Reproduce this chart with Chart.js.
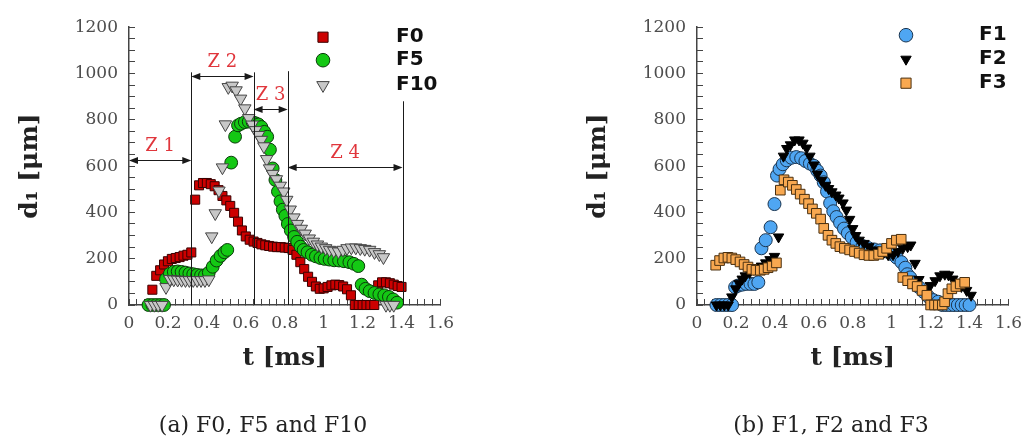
<!DOCTYPE html>
<html>
<head>
<meta charset="utf-8">
<script src="https://cdn.jsdelivr.net/npm/chart.js@4.4.1/dist/chart.umd.min.js"></script>
<style>
  html, body { margin: 0; padding: 0; background: #fff; overflow: hidden; }
  body { width: 1036px; height: 439px; position: relative; }
  .panel { position: absolute; top: 0; width: 468px; height: 439px; }
  .panel canvas { position: absolute; left: 0; top: 0; }
  .caption { position: absolute; left: 0; top: 411px; width: 526px; text-align: center;
             font: 22px "DejaVu Serif", serif; line-height: 28px; color: #222; }
</style>
</head>
<body>
<div class="panel" style="left:0"><canvas id="chartA" width="468" height="439"></canvas><div class="caption">(a) F0, F5 and F10</div></div>
<div class="panel" style="left:568px"><canvas id="chartB" width="468" height="439"></canvas><div class="caption">(b) F1, F2 and F3</div></div>
<script>
// ---- data: t [ms] and d1 [µm] ----
const f0T = [0.12,0.14,0.16,0.18,0.20,0.22,0.24,0.26,0.28,0.30,0.32,0.34,0.36,0.38,0.40,0.42,0.44,0.46,0.48,0.50,0.52,0.54,0.56,0.58,0.60,0.62,0.64,0.66,0.68,0.70,0.72,0.74,0.76,0.78,0.80,0.82,0.84,0.86,0.88,0.90,0.92,0.94,0.96,0.98,1.00,1.02,1.04,1.06,1.08,1.10,1.12,1.14,1.16,1.18,1.20,1.22,1.24,1.26,1.28,1.30,1.32,1.34,1.36,1.38,1.40];
const f0D = [66,126,150,175,189,199,203,207,213,217,227,455,517,527,527,522,513,496,471,452,428,398,360,322,296,282,274,268,262,258,255,252,250,250,248,246,238,217,185,155,122,100,80,70,72,78,85,88,86,80,68,42,0,0,0,0,0,0,85,98,98,94,88,82,78];

const f5T = [0.10,0.12,0.14,0.16,0.18,0.19,0.21,0.23,0.25,0.27,0.29,0.31,0.33,0.35,0.37,0.39,0.41,0.43,0.45,0.47,0.49,0.505,0.525,0.545,0.56,0.575,0.595,0.615,0.635,0.65,0.665,0.68,0.695,0.71,0.724,0.738,0.752,0.765,0.778,0.79,0.803,0.816,0.831,0.848,0.864,0.881,0.897,0.917,0.939,0.96,0.983,1.005,1.03,1.054,1.079,1.104,1.132,1.155,1.178,1.195,1.215,1.236,1.261,1.286,1.311,1.335,1.357,1.377];
const f5D = [0,0,0,0,0,112,135,143,145,143,140,136,133,130,128,128,140,165,192,212,228,238,615,727,776,783,790,792,790,785,780,769,748,727,671,590,540,490,448,412,385,350,322,294,273,252,238,228,217,210,203,199,196,193,192,189,185,178,168,88,70,60,52,46,42,35,24,10];

const f10T = [0.11,0.13,0.15,0.17,0.19,0.21,0.23,0.25,0.27,0.29,0.31,0.33,0.35,0.37,0.39,0.41,0.425,0.443,0.462,0.48,0.495,0.51,0.53,0.55,0.573,0.595,0.615,0.633,0.65,0.665,0.68,0.693,0.707,0.722,0.738,0.757,0.777,0.795,0.81,0.828,0.847,0.865,0.885,0.905,0.926,0.947,0.968,0.988,1.01,1.03,1.052,1.076,1.099,1.12,1.142,1.165,1.188,1.211,1.236,1.261,1.286,1.307,1.32,1.34,1.36];
const f10D = [0,0,0,0,77,112,110,109,108,107,107,107,107,107,107,110,296,396,494,594,780,941,947,927,891,849,807,779,755,734,713,685,630,590,566,543,515,490,454,412,378,350,329,308,287,273,261,252,245,238,234,231,238,245,248,248,245,242,238,228,219,206,0,0,0];

const f1T = [0.10,0.12,0.14,0.16,0.18,0.196,0.212,0.232,0.253,0.275,0.295,0.315,0.331,0.353,0.378,0.398,0.411,0.424,0.441,0.461,0.485,0.51,0.535,0.557,0.58,0.601,0.618,0.635,0.651,0.668,0.684,0.70,0.717,0.735,0.755,0.775,0.795,0.82,0.85,0.88,0.91,0.94,0.97,1.0,1.025,1.05,1.07,1.08,1.095,1.115,1.14,1.165,1.19,1.214,1.239,1.26,1.28,1.30,1.32,1.34,1.36,1.38,1.40];
const f1D = [0,0,0,0,0,77,84,88,91,91,91,98,245,280,336,436,559,587,608,625,636,639,634,622,611,601,580,559,530,490,440,405,380,355,330,310,292,270,255,246,240,236,232,220,205,185,161,133,119,98,77,56,35,21,14,0,0,0,0,0,0,0,0];

const f2T = [0.10,0.12,0.14,0.16,0.179,0.199,0.216,0.232,0.248,0.27,0.292,0.312,0.331,0.353,0.375,0.398,0.419,0.444,0.461,0.48,0.502,0.524,0.544,0.563,0.58,0.60,0.618,0.64,0.66,0.676,0.693,0.713,0.729,0.75,0.767,0.784,0.80,0.815,0.833,0.858,0.883,0.908,0.933,0.957,0.982,1.007,1.032,1.057,1.082,1.098,1.12,1.14,1.156,1.181,1.198,1.223,1.248,1.273,1.292,1.314,1.339,1.358,1.385,1.408];
const f2D = [0,0,0,0,35,70,94,112,126,140,154,161,168,182,196,210,294,643,676,692,713,713,699,678,643,605,566,538,517,503,489,475,462,441,410,370,330,300,280,266,252,238,231,224,217,217,231,245,252,259,180,110,70,70,84,105,126,133,130,112,98,80,63,42];

const f3T = [0.096,0.116,0.138,0.159,0.179,0.199,0.221,0.242,0.262,0.282,0.303,0.325,0.345,0.365,0.386,0.408,0.428,0.447,0.469,0.49,0.51,0.53,0.552,0.573,0.593,0.613,0.635,0.651,0.673,0.693,0.713,0.734,0.757,0.784,0.809,0.833,0.858,0.883,0.908,0.933,0.954,0.974,0.999,1.024,1.049,1.057,1.082,1.107,1.131,1.156,1.181,1.20,1.22,1.24,1.26,1.272,1.289,1.309,1.33,1.352,1.375];
const f3D = [172,192,203,206,203,196,186,175,164,154,150,150,154,161,168,182,496,541,531,517,499,479,457,438,415,396,371,331,301,280,266,252,245,238,231,224,217,214,214,219,231,245,266,280,284,119,105,91,80,63,42,0,0,0,0,14,49,70,80,91,98];

// axis labels (major ticks only, minor ticks carry no text)
const xTickLabels = ['0','0.2','0.4','0.6','0.8','1','1.2','1.4','1.6'];
const yTickLabels = ['0','200','400','600','800','1000','1200'];

// zones of panel (a): edges in t, line tops and arrow heights in d1
const zoneEdges = [0, 0.32, 0.64, 0.815, 1.405];
const zoneTops = [1005, 1005, 1010, 880];
const zoneArrowD = [628, 988, 845, 597];
const zoneNames = ['Z 1', 'Z 2', 'Z 3', 'Z 4'];

// ---- helpers ----
function series(label, t, d, style) {
  return Object.assign({ label, data: t.map((x, i) => ({ x, y: d[i] })), clip: false }, style);
}

function marker(shape, radius, fill, edge, rotation) {
  return { pointStyle: shape, pointRadius: radius, pointRotation: rotation || 0,
           backgroundColor: fill, borderColor: edge, borderWidth: 1 };
}

function stepTicks(max, step) {
  const out = [];
  const n = Math.round(max / step);
  for (let i = 0; i <= n; i++) out.push({ value: +(i * step).toFixed(4) });
  return out;
}

function labelFor(v, major, labels) {
  const i = Math.round(v / major);
  return Math.abs(v - i * major) < 1e-6 ? labels[i] : '';
}

function axes() {
  const tickFont = { family: 'DejaVu Serif', size: 17 };
  const titleFont = { family: 'DejaVu Serif', size: 25, weight: 'bold' };
  const grid = { drawOnChartArea: false, tickLength: -6, tickColor: '#444', tickWidth: 1 };
  const border = { color: '#444', width: 1.5 };
  return {
    x: {
      type: 'linear', min: 0, max: 1.6,
      afterBuildTicks: s => { s.ticks = stepTicks(1.6, 0.04); },
      afterFit: s => { s.height = 134; },
      ticks: { autoSkip: false, maxRotation: 0, padding: 14, font: tickFont, color: '#4d4d4d',
               callback: v => labelFor(v, 0.2, xTickLabels) },
      grid, border,
      title: { display: true, text: 't [ms]', font: titleFont, color: '#222', padding: { top: 0, bottom: 66 } }
    },
    y: {
      type: 'linear', min: 0, max: 1200,
      afterBuildTicks: s => { s.ticks = stepTicks(1200, 50); },
      afterFit: s => { s.width = 129; },
      ticks: { autoSkip: false, padding: 17, font: tickFont, color: '#4d4d4d',
               callback: v => labelFor(v, 200, yTickLabels) },
      grid, border,
      title: { display: true, text: 'd₁ [μm]', font: titleFont, color: '#222', padding: { top: 15, bottom: 0 } }
    }
  };
}

/** Legend drawn inside the plot: marker, wide gap, bold label */
function legendPlugin(rows) {
  return {
    id: 'sideLegend',
    afterDatasetsDraw(chart) {
      const { ctx, chartArea: a } = chart;
      ctx.save();
      rows.forEach(r => {
        const ds = chart.data.datasets[r.index];
        ctx.fillStyle = ds.backgroundColor;
        ctx.strokeStyle = ds.borderColor;
        ctx.lineWidth = ds.borderWidth;
        Chart.helpers.drawPoint(ctx, { pointStyle: ds.pointStyle, rotation: ds.pointRotation,
          radius: r.radius, borderWidth: ds.borderWidth }, a.left + r.mx, a.top + r.y);
        ctx.fillStyle = '#111';
        ctx.font = 'bold 20px "DejaVu Sans"';
        ctx.textBaseline = 'middle';
        ctx.textAlign = 'left';
        ctx.fillText(ds.label, a.left + r.tx, a.top + r.y);
      });
      ctx.restore();
    }
  };
}

/** Zone lines, double arrows and red names of panel (a) */
const zonePlugin = {
  id: 'zones',
  afterDatasetsDraw(chart) {
    const { ctx } = chart;
    const xs = chart.scales.x, ys = chart.scales.y;
    ctx.save();
    ctx.strokeStyle = '#1a1a1a';
    ctx.fillStyle = '#1a1a1a';
    ctx.lineWidth = 1;
    for (let i = 1; i < zoneEdges.length; i++) {
      const px = Math.round(xs.getPixelForValue(zoneEdges[i])) + 0.5;
      ctx.beginPath();
      ctx.moveTo(px, ys.getPixelForValue(zoneTops[i - 1]));
      ctx.lineTo(px, ys.bottom);
      ctx.stroke();
    }
    zoneNames.forEach((name, i) => {
      const x1 = xs.getPixelForValue(zoneEdges[i]);
      const x2 = xs.getPixelForValue(zoneEdges[i + 1]);
      const y = Math.round(ys.getPixelForValue(zoneArrowD[i])) + 0.5;
      ctx.fillStyle = '#1a1a1a';
      ctx.beginPath();
      ctx.moveTo(x1 + 8, y); ctx.lineTo(x2 - 8, y);
      ctx.stroke();
      ctx.beginPath();
      ctx.moveTo(x1, y); ctx.lineTo(x1 + 9, y - 3.5); ctx.lineTo(x1 + 9, y + 3.5); ctx.closePath();
      ctx.moveTo(x2, y); ctx.lineTo(x2 - 9, y - 3.5); ctx.lineTo(x2 - 9, y + 3.5); ctx.closePath();
      ctx.fill();
      ctx.fillStyle = '#e0363c';
      ctx.font = '18px "DejaVu Serif"';
      ctx.textAlign = 'center';
      ctx.textBaseline = 'middle';
      ctx.fillText(name, (x1 + x2) / 2, y - 14);
    });
    ctx.restore();
  }
};

function makeChart(id, datasets, plugins) {
  return new Chart(document.getElementById(id), {
    type: 'scatter',
    data: { datasets },
    options: {
      responsive: false,
      animation: false,
      events: [],
      layout: { padding: { left: 0, right: 16, top: 19, bottom: 0 } },
      scales: axes(),
      plugins: { legend: { display: false }, tooltip: { enabled: false } }
    },
    plugins
  });
}

// ---- panel (a) ----
makeChart('chartA', [
  Object.assign(series('F0', f0T, f0D, marker('rect', 6.4, '#cc0000', '#3a0000')), { order: 3 }),
  Object.assign(series('F5', f5T, f5D, marker('circle', 6.4, '#14c814', '#0b3a0b')), { order: 2 }),
  Object.assign(series('F10', f10T, f10D, marker('triangle', 7.2, '#c8c8c8', '#444', 180)), { order: 1 })
], [zonePlugin, legendPlugin([
  { index: 0, mx: 194, tx: 267, y: 10, radius: 7.2 },
  { index: 1, mx: 194, tx: 267, y: 33, radius: 6.8 },
  { index: 2, mx: 194, tx: 267, y: 58, radius: 7.2 }
])]);

// ---- panel (b) ----
makeChart('chartB', [
  Object.assign(series('F1', f1T, f1D, marker('circle', 6.5, '#4fa6f2', '#1b3550')), { order: 3 }),
  Object.assign(series('F2', f2T, f2D, marker('triangle', 6, '#000', '#000', 180)), { order: 2 }),
  Object.assign(series('F3', f3T, f3D, marker('rect', 6.8, '#f8a850', '#4a3010')), { order: 1 })
], [legendPlugin([
  { index: 0, mx: 209, tx: 282, y: 8, radius: 6.8 },
  { index: 1, mx: 209, tx: 282, y: 32, radius: 6 },
  { index: 2, mx: 209, tx: 282, y: 56, radius: 7.2 }
])]);
</script>
</body>
</html>
